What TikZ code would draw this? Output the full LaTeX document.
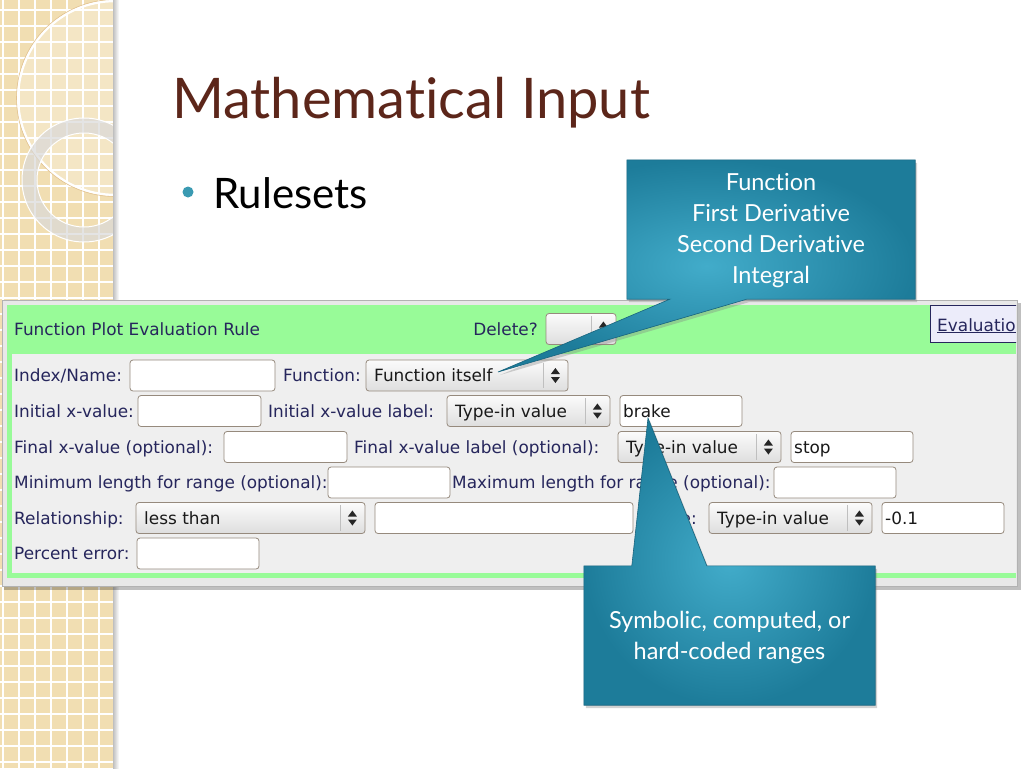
\documentclass[tikz,border=0pt]{standalone}
\usepackage{fontspec}
\setmainfont{Lato}[Ligatures=NoCommon]
\newfontfamily\uifont{DejaVu Sans}
\usepackage{tikz}
\usetikzlibrary{shadows}
\definecolor{stripTan}{RGB}{241,222,178}
\definecolor{titleBrown}{RGB}{92,38,26}
\definecolor{bulletTeal}{RGB}{58,154,178}
\definecolor{headGreen}{RGB}{152,251,152}
\definecolor{bodyGray}{RGB}{239,239,239}
\definecolor{frameGray}{RGB}{232,232,232}
\definecolor{labelNavy}{RGB}{38,38,92}
\definecolor{boxEdge}{RGB}{150,138,125}
\definecolor{calloutOuter}{RGB}{29,124,154}
\definecolor{calloutInner}{RGB}{66,172,202}
\definecolor{calloutEdge}{RGB}{24,100,126}
\definecolor{linkLav}{RGB}{236,236,250}
\pgfdeclarelayer{front}
\pgfsetlayers{main,front}
\tikzset{
  uitext/.style={font=\uifont\fontsize{16.9}{20}\selectfont, inner sep=0pt, anchor=base west, text=black!90},
  lbl/.style={uitext, text=labelNavy},
  tbox/.style={draw=boxEdge, fill=white, rounded corners=3pt, line width=0.8pt, inner sep=0pt, minimum height=31pt},
  dropdown/.style={tbox, top color=white!97!gray, bottom color=black!13},
  callout/.style={draw=calloutEdge, line width=0.6pt, inner color=calloutInner, outer color=calloutOuter,
    drop shadow={shadow xshift=2pt, shadow yshift=-3pt, opacity=0.35}},
  callouttext/.style={text=white, align=center, font=\fontsize{23.5}{31}\selectfont, inner sep=0pt}
}
\newcommand\spinner[1]{%
  \draw[black!25] ([xshift=-25pt,yshift=-3pt]#1.north east) -- ([xshift=-25pt,yshift=3pt]#1.south east);
  \fill[black!85] ([xshift=-13pt,yshift=7.5pt]#1.east) -- ([xshift=-17.5pt,yshift=1.5pt]#1.east) -- ([xshift=-8.5pt,yshift=1.5pt]#1.east) -- cycle;
  \fill[black!85] ([xshift=-13pt,yshift=-7.5pt]#1.east) -- ([xshift=-17.5pt,yshift=-1.5pt]#1.east) -- ([xshift=-8.5pt,yshift=-1.5pt]#1.east) -- cycle;}

\begin{document}
\begin{tikzpicture}[x=1pt,y=-1pt]
\useasboundingbox (0,0) rectangle (1024,768);
\fill[white] (0,0) rectangle (1024,768);
\fill[stripTan] (0,0) rectangle (113,768);
\foreach \g in {3,19,...,112} \draw[white, line width=1.3pt] (\g,0) -- (\g,768);
\foreach \g in {10,26,...,768} \draw[white, line width=1.3pt] (0,\g) -- (113,\g);
\begin{scope}
  \clip (0,0) rectangle (113,768);
  \fill[white, opacity=0.25] (115,98) circle (97);
  \draw[white, line width=2.5pt] (115,98) circle (97);
  \draw[stripTan!70!brown, line width=0.6pt] (115,98) circle (98.5);
  \draw[gray!30, opacity=0.7, line width=15pt] (84,180) circle (54.5);
  \draw[white, line width=1pt] (84,180) circle (62) (84,180) circle (47);
\end{scope}
\shade[left color=black!25, right color=white] (113,0) rectangle (119,768);

\node[anchor=base west, text=titleBrown, font=\fontsize{56}{66}\selectfont, inner sep=0pt] (title) at (172,118) {Mathematical Input};
\node[circle, fill=bulletTeal, minimum size=11pt, inner sep=0pt] (bullet) at (188,192) {};
\node[anchor=base west, font=\fontsize{42}{50}\selectfont, inner sep=0pt] (rulesets) at (213,208) {Rulesets};

\fill[black, opacity=0.25] (4,303) rectangle (1021,590);
\fill[frameGray] (2,300) rectangle (1017,586);
\draw[gray!60] (2,300) rectangle (1017,586);
\fill[headGreen] (7,305) rectangle (1016,578);
\fill[bodyGray] (12,354) rectangle (1016,573);

\node[lbl] (ruleTitle) at (14,335) {Function Plot Evaluation Rule};
\node[lbl, anchor=base east] (deleteLbl) at (538,335) {Delete?};
\node[dropdown, minimum width=70pt] (deleteSel) at (581,329) {};
\spinner{deleteSel}
\begin{scope}
  \clip (0,290) rectangle (1016,600);
  \node[draw=labelNavy, fill=linkLav, line width=0.8pt, minimum width=100pt, minimum height=37pt, inner sep=0pt, anchor=north west] (evalLink) at (930,305) {};
\end{scope}
\node[lbl] (evalText) at (937,331) {\underline{Evaluatio}};

\foreach \nm/\lx/\ly/\txt in {idxLbl/14/375.5/{Index/Name:}, fnLbl/283/375.5/{Function:},
  initLbl/14/411/{Initial x-value:}, initLabLbl/268/411/{Initial x-value label:},
  finLbl/14/447/{Final x-value (optional):}, finLabLbl/354/447/{Final x-value label (optional):},
  minLbl/14/482.5/{Minimum length for range (optional):}, maxLbl/452/482.5/{Maximum length for range (optional):},
  relLbl/14/518/{Relationship:}, pctLbl/14/553.5/{Percent error:}}
  \node[lbl] (\nm) at (\lx,\ly+6) {\txt};
\node[lbl, anchor=base east] (tolLbl) at (697,524) {e:};

\foreach \nm/\xa/\xb/\yc/\txt in {idxBox/130/275/375.5/{}, initBox/138/261/411/{}, initLab/620/742/411/{brake},
  finBox/224/347/447/{}, finLab/791/913/447/{stop}, minBox/328/450/482.5/{}, maxBox/774/896/482.5/{},
  relBox/375/633/518/{}, tolBox/882/1004/518/{-0.1}, pctBox/137/259/553.5/{}}
{
  \pgfmathsetmacro\boxw{\xb-\xa}
  \node[tbox, minimum width=\boxw pt] (\nm) at ({(\xa+\xb)/2},\yc) {};
  \node[uitext] (\nm-t) at (\xa+3,\yc+6) {\txt};
}

\foreach \nm/\xa/\xb/\yc/\txt in {fnSel/366/568/375.5/{Function itself}, initSel/447/610/411/{Type-in value},
  finSel/618/781/447/{Type-in value}, relSel/136/365/518/{less than}, tolSel/709/872/518/{Type-in value}}
{
  \pgfmathsetmacro\boxw{\xb-\xa}
  \node[dropdown, minimum width=\boxw pt] (\nm) at ({(\xa+\xb)/2},\yc) {};
  \node[uitext] (\nm-t) at (\xa+8,\yc+6) {\txt};
  \spinner{\nm}
}

\begin{pgfonlayer}{front}
\node[callouttext, minimum width=288pt, minimum height=139pt] (derivs) at (771,231) {Function\\First Derivative\\Second Derivative\\Integral};
\node[callouttext, minimum width=291pt, minimum height=139pt] (ranges) at (729.5,637) {Symbolic, computed, or\\hard-coded ranges};
\end{pgfonlayer}
\coordinate (derivsTip) at (498,372);
\coordinate (rangesTip) at (648,418);
\shade[callout] ([yshift=1.5pt]derivs.south west) -- ([xshift=43pt,yshift=1.5pt]derivs.south west) -- (derivsTip)
  -- ([xshift=120pt,yshift=1.5pt]derivs.south west) -- ([yshift=1.5pt]derivs.south east)
  -- ([yshift=1.5pt]derivs.north east) -- ([yshift=1.5pt]derivs.north west) -- cycle;
\shade[callout] ([yshift=1.5pt]ranges.north west) -- ([xshift=48pt,yshift=1.5pt]ranges.north west) -- (rangesTip)
  -- ([xshift=123pt,yshift=1.5pt]ranges.north west) -- ([yshift=1.5pt]ranges.north east)
  -- ([yshift=1.5pt]ranges.south east) -- ([yshift=1.5pt]ranges.south west) -- cycle;
\end{tikzpicture}
\end{document}
